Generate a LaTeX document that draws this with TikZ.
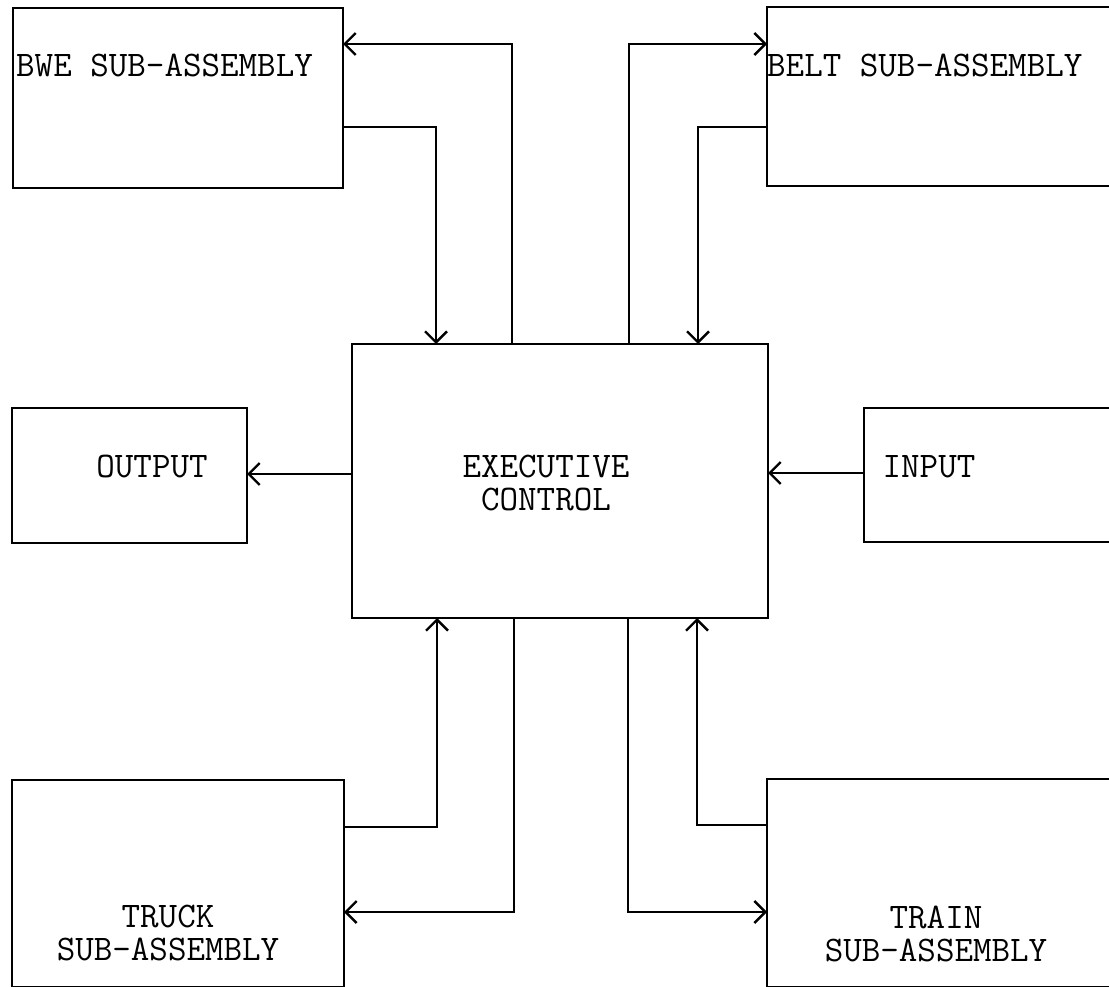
\documentclass[tikz,border=0pt]{standalone}
\usepackage{fontspec}
\usetikzlibrary{arrows.meta}
\begin{document}
\begin{tikzpicture}[x=1pt,y=-1pt,
  box/.style={draw, rectangle, line width=2.6pt, inner sep=0pt, outer sep=0pt, anchor=north west},
  lbl/.style={font=\fontsize{36}{33}\selectfont\ttfamily, inner sep=0pt, align=center},
  conn/.style={line width=2.6pt},
  arr/.style={conn, -{Straight Barb[length=11pt,width=22pt,line width=2.4pt]}}]
\useasboundingbox (0,0) rectangle (1109,987);
\clip (0,0) rectangle (1109,987);
% boxes
\node[box, minimum width=330pt, minimum height=180pt] (bwe) at (13,8) {};
\node[box, minimum width=363pt, minimum height=179pt] (belt) at (767,7) {};
\node[box, minimum width=416pt, minimum height=274pt] (ec) at (352,344) {};
\node[box, minimum width=235pt, minimum height=135pt] (out) at (12,408) {};
\node[box, minimum width=266pt, minimum height=134pt] (in) at (864,408) {};
\node[box, minimum width=332pt, minimum height=207pt] (truck) at (12,780) {};
\node[box, minimum width=363pt, minimum height=208pt] (train) at (767,779) {};
% labels
\node[lbl, anchor=west] (bweT) at (16,65) {BWE SUB-ASSEMBLY};
\node[lbl, anchor=west] (beltT) at (767,65) {BELT SUB-ASSEMBLY};
\node[lbl] (ecT) at (546,483) {EXECUTIVE\\CONTROL};
\node[lbl] (outT) at (152,467) {OUTPUT};
\node[lbl] (inT) at (929,467) {INPUT};
\node[lbl] (truckT) at (168,933) {TRUCK\\SUB-ASSEMBLY};
\node[lbl] (trainT) at (936,934) {TRAIN\\SUB-ASSEMBLY};
% bend coordinates
\coordinate (p1) at (512,44);
\coordinate (p2) at (436,127);
\coordinate (p3) at (629,44);
\coordinate (p4) at (698,127);
\coordinate (p5) at (437,827);
\coordinate (p6) at (514,912);
\coordinate (p7) at (628,912);
\coordinate (p8) at (697,825);
\coordinate (p9) at (0,474);
\coordinate (p10) at (0,473);
% connectors
\draw[arr] (ec.north -| p1) |- (bwe.east |- p1);
\draw[arr] (bwe.east |- p2) -| (ec.north -| p2);
\draw[arr] (ec.north -| p3) |- (belt.west |- p3);
\draw[arr] (belt.west |- p4) -| (ec.north -| p4);
\draw[arr] (ec.west |- p9) -- (out.east |- p9);
\draw[arr] (in.west |- p10) -- (ec.east |- p10);
\draw[arr] (truck.east |- p5) -| (ec.south -| p5);
\draw[arr] (ec.south -| p6) |- (truck.east |- p6);
\draw[arr] (ec.south -| p7) |- (train.west |- p7);
\draw[arr] (train.west |- p8) -| (ec.south -| p8);
\end{tikzpicture}
\end{document}
